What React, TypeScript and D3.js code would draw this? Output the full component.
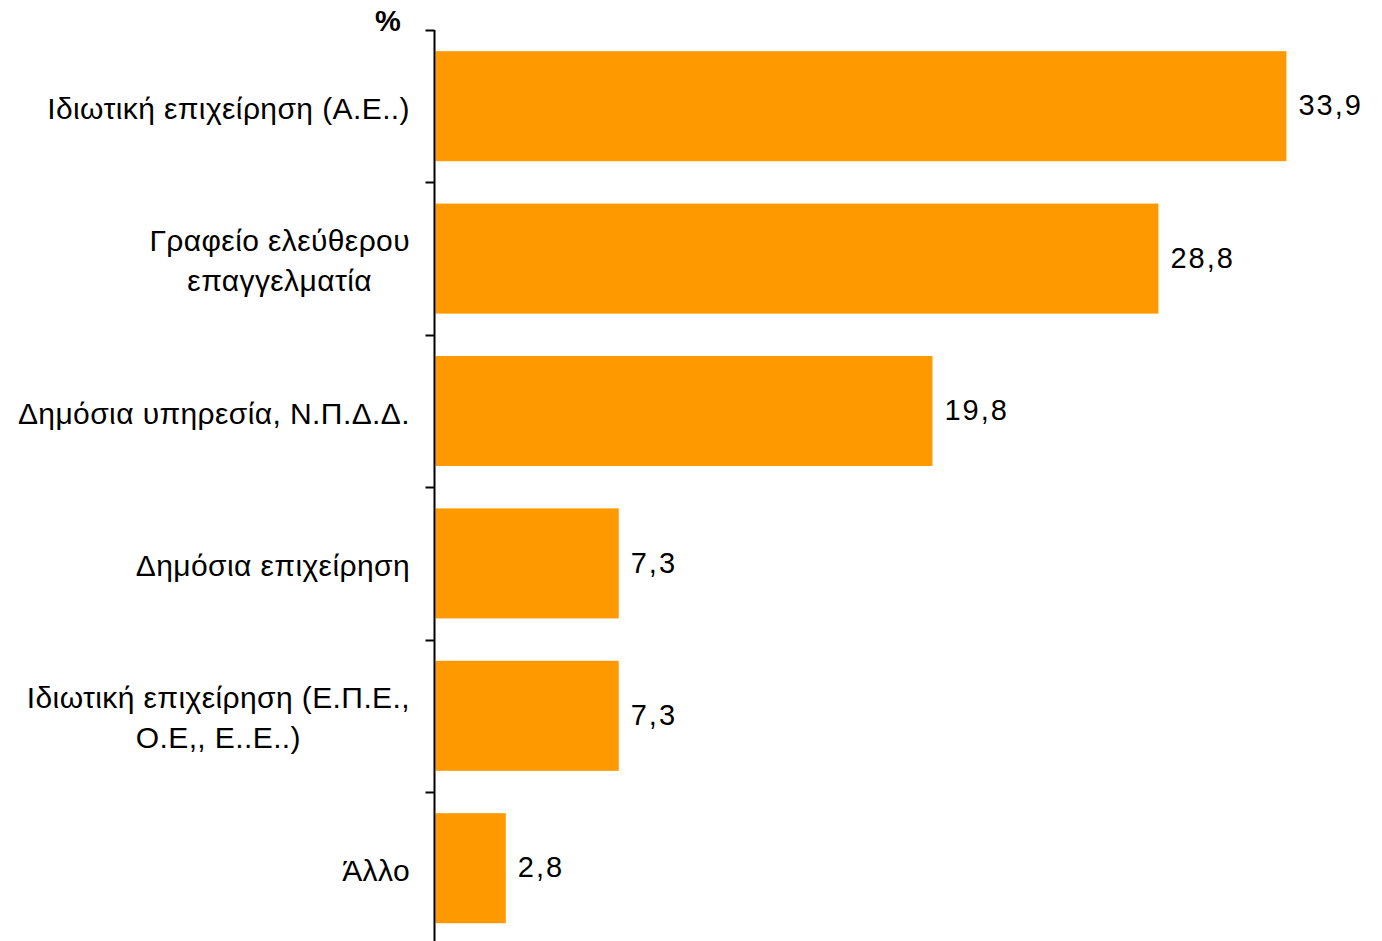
import React, { useEffect, useRef } from "react";
import * as d3 from "d3";

const categories: string[][] = [
  ["Ιδιωτική επιχείρηση (Α.Ε..)"],
  ["Γραφείο ελεύθερου", "επαγγελματία"],
  ["Δημόσια υπηρεσία, Ν.Π.Δ.Δ."],
  ["Δημόσια επιχείρηση"],
  ["Ιδιωτική επιχείρηση (Ε.Π.Ε.,", "Ο.Ε,, Ε..Ε..)"],
  ["Άλλο"],
];
const values: number[] = [33.9, 28.8, 19.8, 7.3, 7.3, 2.8];
const valueLabels: string[] = ["33,9", "28,8", "19,8", "7,3", "7,3", "2,8"];
const unitLabel = "%";

const W = 1382;
const H = 941;
const FONT = "'Liberation Sans', Arial, sans-serif";

export default function App() {
  const ref = useRef<SVGSVGElement>(null);

  useEffect(() => {
    const svg = d3.select(ref.current);
    svg.selectAll("*").remove();

    const axisX = 434.5;
    const keys = categories.map((_, i) => String(i));
    const y = d3.scaleBand<string>().domain(keys).range([30, 944.4]).paddingInner(0.278).paddingOuter(0.139);
    const x = d3.scaleLinear().domain([0, 40]).range([435.5, 435.5 + 25.1 * 40]);

    // bars
    svg
      .append("g")
      .selectAll("rect")
      .data(values)
      .join("rect")
      .attr("x", x(0))
      .attr("y", (_, i) => y(keys[i])!)
      .attr("width", (d) => x(d) - x(0))
      .attr("height", y.bandwidth())
      .attr("fill", "#FF9900");

    // axis line + ticks (category boundaries)
    const g = svg.append("g");
    g.append("line")
      .attr("x1", axisX).attr("x2", axisX)
      .attr("y1", 30).attr("y2", H)
      .attr("stroke", "#000").attr("stroke-width", 2);
    const boundaries = keys.map((k) => y(k)! - y.step() * y.paddingOuter());
    g.selectAll("line.tick")
      .data(boundaries)
      .join("line")
      .attr("class", "tick")
      .attr("x1", axisX - 9).attr("x2", axisX)
      .attr("y1", (d) => Math.round(d) + 0.5).attr("y2", (d) => Math.round(d) + 0.5)
      .attr("stroke", "#000").attr("stroke-width", 2);

    // unit label
    svg.append("text")
      .attr("x", 388).attr("y", 31)
      .attr("text-anchor", "middle")
      .attr("font-family", FONT).attr("font-size", 29).attr("font-weight", "bold")
      .text(unitLabel);

    // value labels
    svg.append("g")
      .selectAll("text")
      .data(values)
      .join("text")
      .attr("x", (d) => x(d) + 12)
      .attr("y", (_, i) => y(keys[i])! + y.bandwidth() / 2 - 1)
      .attr("dy", "0.35em")
      .attr("font-family", FONT).attr("font-size", 29)
      .attr("letter-spacing", 2)
      .text((_, i) => valueLabels[i]);

    // category labels
    const lineH = 40;
    const rightEdge = 410;
    categories.forEach((lines, i) => {
      const cy = y(keys[i])! + y.bandwidth() / 2;
      const tg = svg.append("g");
      const texts = lines.map((line, j) =>
        tg.append("text")
          .attr("x", 0)
          .attr("y", cy + 2 + (j - (lines.length - 1) / 2) * lineH)
          .attr("dy", "0.35em")
          .attr("text-anchor", "middle")
          .attr("font-family", FONT).attr("font-size", 30)
          .attr("letter-spacing", 0.4)
          .text(line)
      );
      let maxW = 0;
      texts.forEach((t) => {
        const w = (t.node() as SVGTextElement).getBBox().width;
        if (w > maxW) maxW = w;
      });
      tg.attr("transform", `translate(${rightEdge - maxW / 2},0)`);
    });
  }, []);

  return <svg ref={ref} width={W} height={H} style={{ display: "block", position: "absolute", left: 0, top: 0 }} />;
}
